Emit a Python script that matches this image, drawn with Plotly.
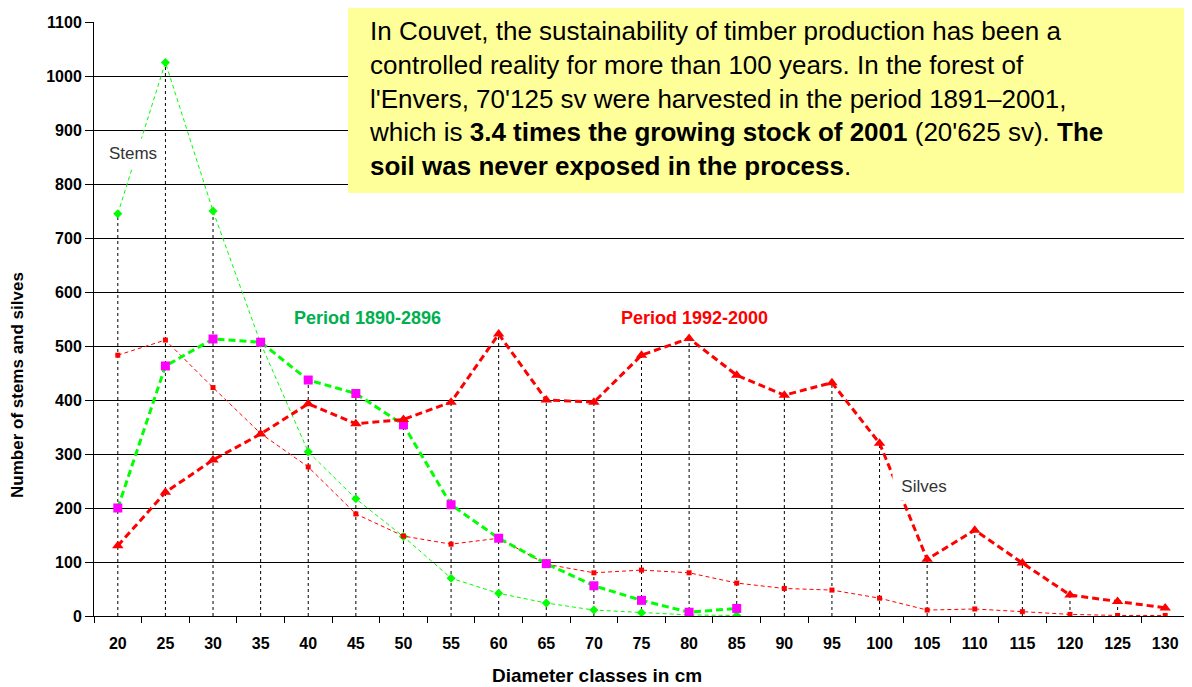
import numpy as np
import plotly.graph_objects as go

# --- data ---
diam = [str(d) for d in range(20, 135, 5)]          # 20 .. 130 cm

stems_1890 = [745, 1025, 750, 505, 304, 217, 147, 70, 42, 24, 11, 6, 2, 1]
silves_1890 = [200, 463, 513, 507, 437, 412, 354, 206, 144, 97, 56, 29, 7, 14]
stems_1992 = [483, 511, 423, 338, 276, 189, 148, 133, 144, 96, 80, 85, 80, 61,
              51, 48, 33, 11, 13, 8, 3, 1, 1]
silves_1992 = [130, 229, 289, 337, 393, 356, 364, 396, 522, 400, 396, 483, 514,
               446, 409, 432, 320, 105, 159, 98, 39, 27, 15]

FONT = "Arial, Liberation Sans, sans-serif"
GREEN = "#00ff00"
RED = "#ff0000"


def pad(vals):
    return vals + [None] * (len(diam) - len(vals))


# drop lines from the highest point of each class down to the axis
tops = np.nanmax(np.array([pad(s) for s in (stems_1890, silves_1890, stems_1992, silves_1992)],
                          dtype=float), axis=0)

fig = go.Figure()

for d, t in zip(diam, tops):
    fig.add_trace(go.Scatter(
        x=[d, d], y=[0, t], mode="lines",
        line=dict(color="black", width=1, dash="3px,3px"),
        hoverinfo="skip", showlegend=False
    ))

# thin lines: stems
fig.add_trace(go.Scatter(
    x=diam[:len(stems_1890)], y=stems_1890, mode="lines+markers",
    line=dict(color=GREEN, width=1, dash="4px,3px"),
    marker=dict(symbol="diamond", size=7, color=GREEN),
    name="Stems 1890-1896", showlegend=False
))
fig.add_trace(go.Scatter(
    x=diam, y=stems_1992, mode="lines+markers",
    line=dict(color=RED, width=1, dash="4px,3px"),
    marker=dict(symbol="square", size=5, color=RED),
    name="Stems 1992-2000", showlegend=False
))

# thick lines: silves
fig.add_trace(go.Scatter(
    x=diam[:len(silves_1890)], y=silves_1890, mode="lines+markers",
    line=dict(color=GREEN, width=3, dash="7px,4px"),
    marker=dict(symbol="square", size=9, color="#ff00ff"),
    name="Silves 1890-1896", showlegend=False
))
fig.add_trace(go.Scatter(
    x=diam, y=silves_1992, mode="lines+markers",
    line=dict(color=RED, width=3, dash="7px,4px"),
    marker=dict(symbol="triangle-up", size=10, color=RED),
    name="Silves 1992-2000", showlegend=False
))

# series labels
fig.add_annotation(x=0.31, y=857, text="Stems", showarrow=False,
                   font=dict(family=FONT, size=17, color="#333333"),
                   bgcolor="white", width=60, height=26)
fig.add_annotation(x=16.93, y=241, text="Silves", showarrow=False,
                   font=dict(family=FONT, size=17, color="#333333"),
                   bgcolor="white", width=60, height=26)
fig.add_annotation(x=5.25, y=552, text="<b>Period 1890-2896</b>", showarrow=False,
                   font=dict(family=FONT, size=18, color="#00b050"))
fig.add_annotation(x=12.12, y=552, text="<b>Period 1992-2000</b>", showarrow=False,
                   font=dict(family=FONT, size=18, color="#ff0000"))

# axis titles
fig.add_annotation(xref="paper", yref="paper", x=-0.0694, y=0.389,
                   xanchor="center", yanchor="middle",
                   text="<b>Number of stems and silves</b>", textangle=-90,
                   showarrow=False, font=dict(family=FONT, size=17, color="black"))
fig.add_annotation(xref="paper", yref="paper", x=0.459, y=-0.101,
                   xanchor="center", yanchor="middle",
                   text="<b>Diameter classes in cm</b>",
                   showarrow=False, font=dict(family=FONT, size=19, color="black"))

# yellow info box
fig.add_shape(type="rect", xref="paper", yref="paper",
              x0=0.232, x1=1.003, y0=0.712, y1=1.0286,
              fillcolor="#ffff99", line=dict(width=0), layer="above")
box_text = (
    "In Couvet, the sustainability of timber production has been a<br>"
    "controlled reality for more than 100 years. In the forest of<br>"
    "l'Envers, 70'125 sv were harvested in the period 1891–2001,<br>"
    "which is <b>3.4 times the growing stock of 2001</b> (20'625 sv). <b>The</b><br>"
    "<b>soil was never exposed in the process</b>."
)
fig.add_annotation(xref="paper", yref="paper", x=0.249, y=1.013,
                   xanchor="left", yanchor="top", align="left",
                   text=box_text, showarrow=False,
                   font=dict(family=FONT, size=26, color="black"))

fig.update_xaxes(
    type="category", categoryorder="array", categoryarray=diam,
    range=[-0.5, len(diam) - 0.5],
    tickson="boundaries", ticks="outside", ticklen=6,
    tickcolor="black", showline=True, linecolor="black", linewidth=1,
    showgrid=False, ticklabelstandoff=13,
    tickfont=dict(family=FONT, size=16, color="black", weight="bold")
)
fig.update_yaxes(
    range=[0, 1100], dtick=100, ticks="outside", ticklen=8, tickcolor="black",
    showline=True, linecolor="black", linewidth=1,
    showgrid=True, gridcolor="black", gridwidth=1, zeroline=False,
    tickfont=dict(family=FONT, size=16, color="black", weight="bold")
)

# page body adds an 8px offset, so the figure is 8px smaller on each side
fig.update_layout(
    width=1184, height=679,
    margin=dict(l=86, r=3, t=14, b=71),
    plot_bgcolor="white", paper_bgcolor="white",
    showlegend=False
)

fig.write_html("out.html")
